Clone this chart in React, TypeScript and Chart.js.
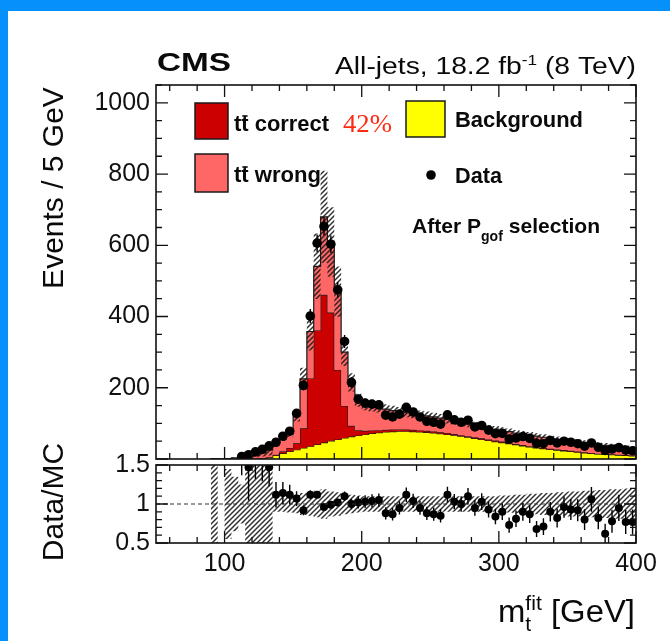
import { useEffect, useRef } from "react";
import { Chart, registerables } from "chart.js";

Chart.register(...registerables);

const FONT = "'Liberation Sans', Arial, Helvetica, sans-serif";
const SERIF = "'Liberation Serif', 'Times New Roman', serif";

// 5 GeV bins in m_t^fit, given by their lower edges
const binWidth = 5;
const binLow = [
  90, 95, 100, 105, 110, 115, 120, 125, 130, 135,
  140, 145, 150, 155, 160, 165, 170, 175, 180, 185,
  190, 195, 200, 205, 210, 215, 220, 225, 230, 235,
  240, 245, 250, 255, 260, 265, 270, 275, 280, 285,
  290, 295, 300, 305, 310, 315, 320, 325, 330, 335,
  340, 345, 350, 355, 360, 365, 370, 375, 380, 385,
  390, 395,
];

// Stacked MC components (events / 5 GeV)
const background = [
  0, 0, 0, 0, 0, 0, 0, 1, 4, 10,
  16, 21, 26, 31, 36, 41, 46, 51, 55, 59,
  63, 66, 69, 72, 74, 76, 77, 78, 78, 77,
  76, 75, 73, 71, 69, 67, 64, 61, 58, 55,
  52, 49, 46, 43, 40, 37, 34, 31, 29, 27,
  25, 23, 21, 19, 17, 16, 14, 13, 12, 11,
  10, 9,
];
const ttCorrect = [
  0, 0, 0, 0, 0, 1, 1, 1, 1, 2,
  6, 10, 18, 55, 190, 320, 415, 360, 195, 90,
  30, 15, 10, 8, 7, 6, 6, 5, 5, 5,
  4, 4, 4, 4, 4, 3, 3, 3, 3, 3,
  3, 3, 3, 2, 2, 2, 2, 2, 2, 2,
  2, 2, 2, 2, 2, 1, 1, 1, 1, 1,
  1, 1,
];
const ttWrong = [
  1, 0, 1, 3, 5, 7, 11, 15, 20, 30,
  34, 39, 76, 139, 132, 180, 219, 198, 220, 151,
  122, 84, 73, 68, 64, 58, 53, 50, 47, 45,
  44, 42, 41, 40, 38, 37, 36, 35, 34, 33,
  32, 32, 31, 32, 31, 31, 31, 31, 30, 29,
  28, 27, 27, 26, 26, 25, 25, 24, 23, 22,
  21, 20,
];
// Relative uncertainty of the MC prediction
const systUnc = [
  0.6, 0, 0.45, 0.35, 0.25, 0.6, 0.6, 0.6, 0.6, 0.1,
  0.1, 0.11, 0.12, 0.14, 0.15, 0.17, 0.19, 0.16, 0.15, 0.13,
  0.12, 0.11, 0.1, 0.1, 0.1, 0.1, 0.1, 0.1, 0.1, 0.1,
  0.1, 0.1, 0.1, 0.1, 0.1, 0.1, 0.1, 0.1, 0.1, 0.1,
  0.1, 0.1, 0.11, 0.11, 0.12, 0.12, 0.13, 0.13, 0.14, 0.14,
  0.15, 0.15, 0.16, 0.16, 0.17, 0.17, 0.18, 0.18, 0.19, 0.19,
  0.2, 0.2,
];
// Observed events / 5 GeV
const dataCounts: (number | null)[] = [
  null, null, null, null, 7, 12, 20, 27, 37, 47,
  64, 78, 128, 207, 401, 606, 653, 603, 475, 330,
  215, 168, 157, 154, 152, 123, 118, 126, 145, 132,
  118, 106, 103, 98, 124, 110, 103, 109, 90, 94,
  81, 71, 72, 56, 59, 63, 58, 44, 43, 52,
  45, 50, 47, 43, 36, 45, 33, 24, 28, 32,
  25, 23,
];
// Data / MC
const dataOverMC: (number | null)[] = [
  null, null, null, null, 2.2, 1.47, 1.7, 1.6, 1.47, 1.12,
  1.14, 1.12, 1.07, 0.92, 1.12, 1.12, 0.96, 0.99, 1.02, 1.1,
  1.0, 1.02, 1.03, 1.04, 1.05, 0.88, 0.87, 0.95, 1.12, 1.04,
  0.95, 0.88, 0.87, 0.85, 1.12, 1.03, 1.0, 1.1, 0.95, 1.03,
  0.93, 0.84, 0.9, 0.73, 0.81, 0.9, 0.87, 0.68, 0.71, 0.9,
  0.82, 0.96, 0.93, 0.92, 0.8, 1.06, 0.82, 0.62, 0.78, 0.95,
  0.77, 0.77,
];

const xTickLabels = [100, 200, 300, 400];
const mainYTickLabels = [200, 400, 600, 800, 1000];
const ratioYTickLabels = [0.5, 1, 1.5];

const COLORS = {
  correct: "#cc0000",
  wrong: "#ff6666",
  background: "#ffff00",
  outline: "#1a1a1a",
};

// ---------- helpers ----------

// Step-histogram points for a stepped line on a linear x scale
function stepPoints(values: number[]) {
  const pts = [{ x: binLow[0], y: 0 }];
  binLow.forEach((e, i) => pts.push({ x: e, y: values[i] }));
  const last = binLow.length - 1;
  pts.push({ x: binLow[last] + binWidth, y: values[last] });
  return pts;
}

function makeHatch(ctx: CanvasRenderingContext2D) {
  const s = 5;
  const c = document.createElement("canvas");
  c.width = s;
  c.height = s;
  const g = c.getContext("2d")!;
  g.strokeStyle = "rgba(25,25,25,0.9)";
  g.lineWidth = 1.45;
  g.beginPath();
  g.moveTo(0, s);
  g.lineTo(s, 0);
  g.moveTo(-1, 1);
  g.lineTo(1, -1);
  g.moveTo(s - 1, s + 1);
  g.lineTo(s + 1, s - 1);
  g.stroke();
  return ctx.createPattern(c, "repeat")!;
}

type Part = { text: string; font: string; dy?: number; advance?: boolean; color?: string };

function drawParts(
  ctx: CanvasRenderingContext2D,
  parts: Part[],
  x: number,
  y: number,
  align: "left" | "right",
  fit?: number
) {
  ctx.save();
  ctx.textBaseline = "alphabetic";
  ctx.textAlign = "left";
  const widths = parts.map((p) => {
    ctx.font = p.font;
    return ctx.measureText(p.text).width;
  });
  let natural = 0;
  parts.forEach((p, i) => {
    if (p.advance !== false) natural += widths[i];
  });
  const sx = fit ? fit / natural : 1;
  const x0 = align === "right" ? x - natural * sx : x;
  ctx.translate(x0, y);
  ctx.scale(sx, 1);
  let cx = 0;
  const starts: number[] = [];
  parts.forEach((p, i) => {
    ctx.font = p.font;
    ctx.fillStyle = p.color || "#0a0a0a";
    starts.push(cx);
    ctx.fillText(p.text, cx, p.dy || 0);
    if (p.advance !== false) cx += widths[i];
  });
  ctx.restore();
  return { sx, x0, starts, widths };
}

function drawRotated(ctx: CanvasRenderingContext2D, text: string, x: number, y: number, font: string) {
  ctx.save();
  ctx.translate(x, y);
  ctx.rotate(-Math.PI / 2);
  ctx.font = font;
  ctx.fillStyle = "#0a0a0a";
  ctx.textAlign = "center";
  ctx.textBaseline = "alphabetic";
  ctx.fillText(text, 0, 0);
  ctx.restore();
}

function legendBox(ctx: CanvasRenderingContext2D, x: number, y: number, w: number, h: number, fill: string) {
  ctx.fillStyle = fill;
  ctx.fillRect(x, y, w, h);
  ctx.strokeStyle = COLORS.outline;
  ctx.lineWidth = 1.5;
  ctx.strokeRect(x, y, w, h);
}

type TickSpec = { start: number; end: number; step: number; major: number };

function drawFrame(chart: any, xt: TickSpec, yt: TickSpec, majorLen: number, minorLen: number) {
  const { ctx, chartArea: a, scales } = chart;
  const xs = scales.x;
  const ys = scales.y;
  const isMajor = (v: number, m: number) => Math.abs(v / m - Math.round(v / m)) < 1e-6;
  ctx.save();
  ctx.strokeStyle = "#111";
  ctx.lineWidth = 1.3;
  ctx.beginPath();
  const nx = Math.round((xt.end - xt.start) / xt.step);
  for (let k = 0; k <= nx; k++) {
    const v = xt.start + k * xt.step;
    const px = xs.getPixelForValue(v);
    const L = isMajor(v, xt.major) ? majorLen : minorLen;
    ctx.moveTo(px, a.bottom);
    ctx.lineTo(px, a.bottom - L);
    ctx.moveTo(px, a.top);
    ctx.lineTo(px, a.top + L);
  }
  const ny = Math.round((yt.end - yt.start) / yt.step);
  for (let k = 0; k <= ny; k++) {
    const v = yt.start + k * yt.step;
    const py = ys.getPixelForValue(v);
    const L = isMajor(v, yt.major) ? majorLen : minorLen;
    ctx.moveTo(a.left, py);
    ctx.lineTo(a.left + L, py);
    ctx.moveTo(a.right, py);
    ctx.lineTo(a.right - L, py);
  }
  ctx.stroke();
  ctx.lineWidth = 1.6;
  ctx.strokeRect(a.left, a.top, a.right - a.left, a.bottom - a.top);
  ctx.restore();
}

function drawErrorBars(chart: any, centers: number[], values: (number | null)[], errors: (number | null)[]) {
  const { ctx, chartArea: a, scales } = chart;
  ctx.save();
  ctx.beginPath();
  ctx.rect(a.left, a.top, a.right - a.left, a.bottom - a.top);
  ctx.clip();
  ctx.strokeStyle = "#000";
  ctx.lineWidth = 1.4;
  ctx.beginPath();
  values.forEach((v, i) => {
    const e = errors[i];
    if (v == null || e == null) return;
    const px = scales.x.getPixelForValue(centers[i]);
    ctx.moveTo(px, scales.y.getPixelForValue(v - e));
    ctx.lineTo(px, scales.y.getPixelForValue(v + e));
  });
  ctx.stroke();
  ctx.restore();
}

const tickFont = { family: FONT, size: 25 };

export default function App() {
  const mainRef = useRef<HTMLCanvasElement>(null);
  const ratioRef = useRef<HTMLCanvasElement>(null);

  useEffect(() => {
    const centers = binLow.map((e) => e + binWidth / 2);
    const cumBkg = background.slice();
    const cumCorrect = background.map((b, i) => b + ttCorrect[i]);
    const cumTotal = cumCorrect.map((c, i) => c + ttWrong[i]);
    const bandLo = cumTotal.map((t, i) => t * (1 - systUnc[i]));
    const bandHi = cumTotal.map((t, i) => t * (1 + systUnc[i]));
    const ratioLo = systUnc.map((u) => 1 - u);
    const ratioHi = systUnc.map((u) => 1 + u);
    const dataErr = dataCounts.map((n) => (n == null ? null : Math.sqrt(n)));
    const ratioErr = dataOverMC.map((r, i) => {
      const n = dataCounts[i];
      return r == null || n == null ? null : r / Math.sqrt(n);
    });

    const mainCanvas = mainRef.current!;
    const ratioCanvas = ratioRef.current!;
    const hatchMain = makeHatch(mainCanvas.getContext("2d")!);
    const hatchRatio = makeHatch(ratioCanvas.getContext("2d")!);

    const histLine = (values: number[], fill: any, color: string, order: number, border = COLORS.outline) => ({
      data: stepPoints(values),
      stepped: true,
      fill,
      backgroundColor: color,
      borderColor: border,
      borderWidth: border === "transparent" ? 0 : 1.2,
      pointRadius: 0,
      order,
    });

    const mainPlugin = {
      id: "mainDecor",
      afterDatasetsDraw(chart: any) {
        drawErrorBars(chart, centers, dataCounts, dataErr);
        drawFrame(
          chart,
          { start: 60, end: 400, step: 20, major: 100 },
          { start: 0, end: 1050, step: 50, major: 200 },
          12,
          6
        );
      },
      afterDraw(chart: any) {
        const ctx: CanvasRenderingContext2D = chart.ctx;
        // header
        drawParts(ctx, [{ text: "CMS", font: `bold 25px ${FONT}` }], 157, 71, "left", 74);
        drawParts(
          ctx,
          [
            { text: "All-jets, 18.2 fb", font: `23px ${FONT}` },
            { text: "-1", font: `14px ${FONT}`, dy: -9 },
            { text: " (8 TeV)", font: `23px ${FONT}` },
          ],
          636,
          74,
          "right",
          301
        );
        // legend
        legendBox(ctx, 195, 103, 33, 36, COLORS.correct);
        legendBox(ctx, 195, 154, 33, 38, COLORS.wrong);
        legendBox(ctx, 406, 101, 39, 36, COLORS.background);
        const bold = `bold 22px ${FONT}`;
        const overbar = (r: any, y: number) => {
          const x1 = r.x0 + r.starts[1] * r.sx + 1;
          const x2 = r.x0 + (r.starts[1] + r.widths[1]) * r.sx - 1;
          ctx.save();
          ctx.strokeStyle = "#0a0a0a";
          ctx.lineWidth = 1.6;
          ctx.beginPath();
          ctx.moveTo(x1, y);
          ctx.lineTo(x2, y);
          ctx.stroke();
          ctx.restore();
        };
        const r1 = drawParts(
          ctx,
          [{ text: "t", font: bold }, { text: "t", font: bold }, { text: " correct", font: bold }],
          234,
          131,
          "left",
          95
        );
        overbar(r1, 116);
        const r2 = drawParts(
          ctx,
          [{ text: "t", font: bold }, { text: "t", font: bold }, { text: " wrong", font: bold }],
          234,
          182,
          "left",
          87
        );
        overbar(r2, 167);
        drawParts(ctx, [{ text: "42%", font: `26px ${SERIF}`, color: "#ff2a12" }], 343, 132, "left", 49);
        drawParts(ctx, [{ text: "Background", font: bold }], 455, 127, "left", 128);
        ctx.fillStyle = "#000";
        ctx.beginPath();
        ctx.arc(431, 175, 4.8, 0, Math.PI * 2);
        ctx.fill();
        drawParts(ctx, [{ text: "Data", font: bold }], 455, 183, "left", 47);
        drawParts(
          ctx,
          [
            { text: "After P", font: `bold 21px ${FONT}` },
            { text: "gof", font: `bold 14px ${FONT}`, dy: 8 },
            { text: " selection", font: `bold 21px ${FONT}` },
          ],
          412,
          233,
          "left",
          188
        );
        // axis titles
        drawRotated(ctx, "Events / 5 GeV", 63, 188, `30px ${FONT}`);
        drawRotated(ctx, "Data/MC", 63, 502, `30px ${FONT}`);
      },
    };

    const main = new Chart(mainCanvas, {
      type: "line",
      data: {
        datasets: [
          histLine(bandLo, false, "transparent", 2, "transparent"),
          histLine(bandHi, 0, hatchMain as any, 2, "transparent"),
          {
            data: centers.map((c, i) => ({ x: c, y: dataCounts[i] })),
            showLine: false,
            pointRadius: 4.8,
            pointBackgroundColor: "#000",
            pointBorderWidth: 0,
            order: 0,
          },
          histLine(cumTotal, 4, COLORS.wrong, 3),
          histLine(cumCorrect, 5, COLORS.correct, 4),
          histLine(cumBkg, "origin", COLORS.background, 5),
        ] as any,
      },
      options: {
        responsive: false,
        animation: false,
        devicePixelRatio: 1,
        layout: { padding: { left: 0, right: 34, top: 85, bottom: 182 } },
        plugins: { legend: { display: false }, tooltip: { enabled: false } },
        scales: {
          x: { type: "linear", min: 50, max: 400, display: false },
          y: {
            type: "linear",
            min: 0,
            max: 1050,
            grid: { display: false, drawTicks: false },
            border: { display: false },
            ticks: {
              stepSize: 50,
              autoSkip: false,
              padding: 6,
              color: "#111",
              font: tickFont,
              callback: (v: any) => (mainYTickLabels.includes(Number(v)) ? String(v) : ""),
            },
            afterFit: (s: any) => {
              s.width = 156;
            },
          },
        },
      } as any,
      plugins: [mainPlugin],
    });

    const ratioPlugin = {
      id: "ratioDecor",
      afterDatasetsDraw(chart: any) {
        const { ctx, chartArea: a, scales } = chart;
        const py = scales.y.getPixelForValue(1);
        ctx.save();
        ctx.strokeStyle = "#333";
        ctx.lineWidth = 1;
        ctx.setLineDash([4, 3]);
        ctx.beginPath();
        ctx.moveTo(a.left, py);
        ctx.lineTo(a.right, py);
        ctx.stroke();
        ctx.restore();
        drawErrorBars(chart, centers, dataOverMC, ratioErr);
        drawFrame(
          chart,
          { start: 60, end: 400, step: 20, major: 100 },
          { start: 0.5, end: 1.5, step: 0.1, major: 0.5 },
          12,
          6
        );
      },
      afterDraw(chart: any) {
        const ctx: CanvasRenderingContext2D = chart.ctx;
        drawParts(
          ctx,
          [
            { text: "m", font: `31px ${FONT}` },
            { text: "t", font: `20px ${FONT}`, dy: 9, advance: false },
            { text: "fit", font: `20px ${FONT}`, dy: -12 },
            { text: " [GeV]", font: `31px ${FONT}` },
          ],
          635,
          192,
          "right",
          137
        );
      },
    };

    const ratio = new Chart(ratioCanvas, {
      type: "line",
      data: {
        datasets: [
          histLine(ratioLo, false, "transparent", 2, "transparent"),
          histLine(ratioHi, 0, hatchRatio as any, 2, "transparent"),
          {
            data: centers.map((c, i) => ({ x: c, y: dataOverMC[i] })),
            showLine: false,
            pointRadius: 4,
            pointBackgroundColor: "#000",
            pointBorderWidth: 0,
            order: 0,
          },
        ] as any,
      },
      options: {
        responsive: false,
        animation: false,
        devicePixelRatio: 1,
        layout: { padding: { left: 0, right: 34, top: 35, bottom: 0 } },
        plugins: { legend: { display: false }, tooltip: { enabled: false } },
        scales: {
          x: {
            type: "linear",
            min: 50,
            max: 400,
            grid: { display: false, drawTicks: false },
            border: { display: false },
            ticks: {
              stepSize: 20,
              autoSkip: false,
              maxRotation: 0,
              padding: 6,
              color: "#111",
              font: tickFont,
              callback: (v: any) => (xTickLabels.includes(Number(v)) ? String(v) : ""),
            },
            afterFit: (s: any) => {
              s.height = 98;
            },
          },
          y: {
            type: "linear",
            min: 0.5,
            max: 1.5,
            grid: { display: false, drawTicks: false },
            border: { display: false },
            ticks: {
              stepSize: 0.1,
              autoSkip: false,
              padding: 6,
              color: "#111",
              font: tickFont,
              callback: (v: any) => {
                const r = Math.round(Number(v) * 10) / 10;
                if (!ratioYTickLabels.includes(r)) return "";
                return r === 1 ? "1" : r.toFixed(1);
              },
            },
            afterFit: (s: any) => {
              s.width = 156;
            },
          },
        },
      } as any,
      plugins: [ratioPlugin],
    });

    return () => {
      main.destroy();
      ratio.destroy();
    };
  }, []);

  return (
    <div
      style={{
        position: "absolute",
        left: 0,
        top: 0,
        width: 670,
        height: 641,
        background: "#0590fb",
        overflow: "hidden",
      }}
    >
      <div style={{ position: "absolute", left: 8, top: 11, right: 0, bottom: 0, background: "#fff" }} />
      <canvas ref={mainRef} width={670} height={641} style={{ position: "absolute", left: 0, top: 0 }} />
      <canvas ref={ratioRef} width={670} height={211} style={{ position: "absolute", left: 0, top: 430 }} />
    </div>
  );
}
